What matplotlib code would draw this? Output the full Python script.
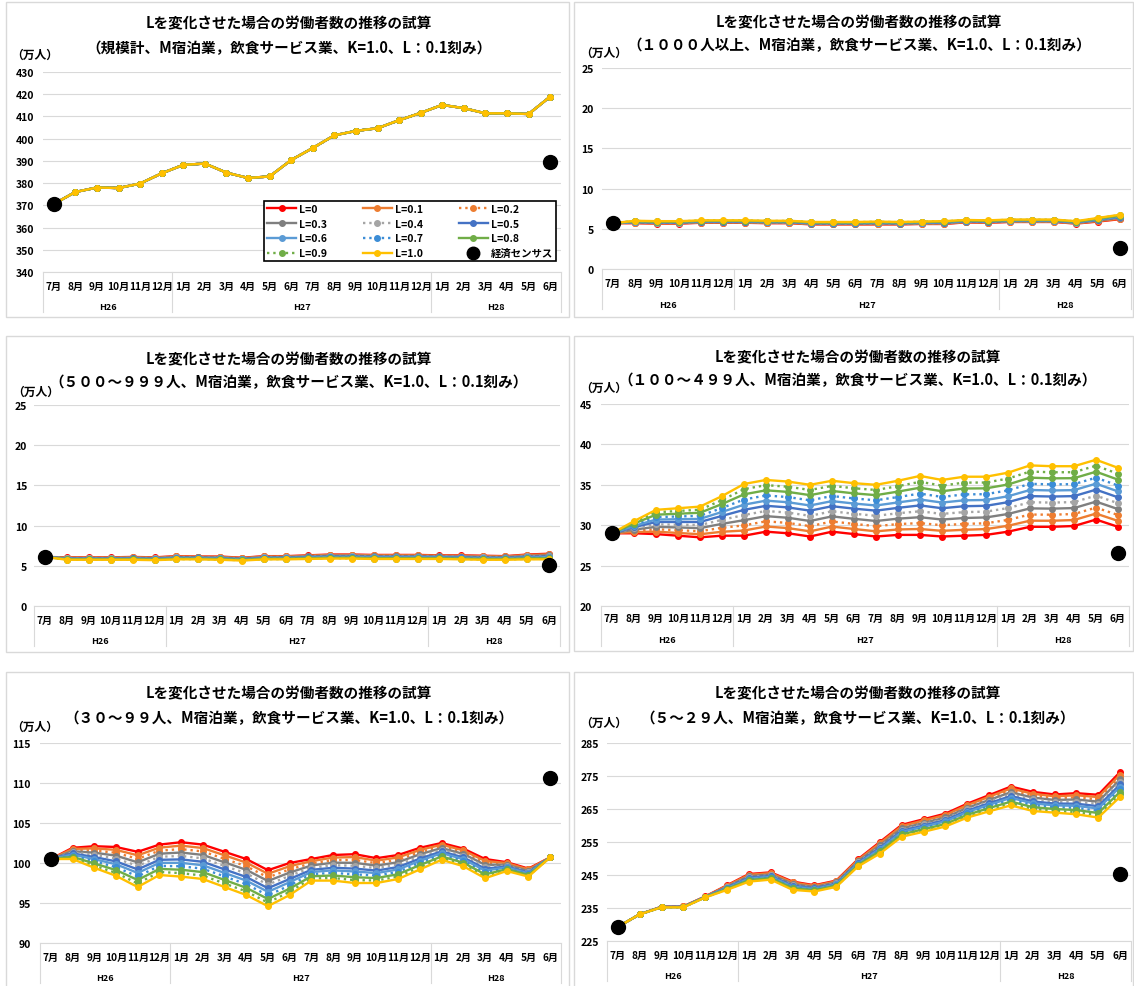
import numpy as np
import matplotlib
matplotlib.use("Agg")
import matplotlib.pyplot as plt
import matplotlib.transforms as mtransforms
from matplotlib.patches import Rectangle
from matplotlib.lines import Line2D

plt.rcParams['font.family'] = ['Noto Sans CJK JP', 'DejaVu Sans']
plt.rcParams['font.weight'] = 'bold'

# ---------------- data ----------------
months = ['7月', '8月', '9月', '10月', '11月', '12月',
          '1月', '2月', '3月', '4月', '5月', '6月', '7月', '8月', '9月', '10月', '11月', '12月',
          '1月', '2月', '3月', '4月', '5月', '6月']
years = ['H26', 'H27', 'H28']
year_first = [0, 6, 18]
year_last = [5, 17, 23]

series_labels = ['L=0', 'L=0.1', 'L=0.2', 'L=0.3', 'L=0.4', 'L=0.5',
                 'L=0.6', 'L=0.7', 'L=0.8', 'L=0.9', 'L=1.0']
census_label = '経済センサス'
census_pos = [0, 23]

title_main = 'Lを変化させた場合の労働者数の推移の試算'
subtitles = [
    '（規模計、M宿泊業，飲食サービス業、K=1.0、L：0.1刻み）',
    '（１０００人以上、M宿泊業，飲食サービス業、K=1.0、L：0.1刻み）',
    '（５００～９９９人、M宿泊業，飲食サービス業、K=1.0、L：0.1刻み）',
    '（１００～４９９人、M宿泊業，飲食サービス業、K=1.0、L：0.1刻み）',
    '（３０～９９人、M宿泊業，飲食サービス業、K=1.0、L：0.1刻み）',
    '（５～２９人、M宿泊業，飲食サービス業、K=1.0、L：0.1刻み）',
]
unit_label = '（万人）'

# 規模計: all L values coincide
total_all = [370.6, 376.0, 378.0, 377.8, 379.8, 384.4, 388.2, 388.8, 384.7, 382.3, 383.0, 390.4,
             395.8, 401.5, 403.5, 404.7, 408.3, 411.6, 415.2, 413.7, 411.4, 411.4, 411.1, 418.9]
census_all = [370.6, 389.6]

# rows = months, columns = L=0 ... L=1.0
v1000 = [
    [5.70, 5.70, 5.70, 5.70, 5.70, 5.70, 5.70, 5.70, 5.70, 5.70, 5.70],
    [5.70, 5.73, 5.76, 5.79, 5.82, 5.85, 5.88, 5.91, 5.94, 5.97, 6.00],
    [5.65, 5.68, 5.71, 5.74, 5.77, 5.80, 5.83, 5.86, 5.89, 5.92, 5.95],
    [5.65, 5.68, 5.71, 5.74, 5.77, 5.80, 5.83, 5.86, 5.89, 5.92, 5.95],
    [5.75, 5.78, 5.81, 5.84, 5.87, 5.90, 5.93, 5.96, 5.99, 6.02, 6.05],
    [5.75, 5.78, 5.81, 5.84, 5.87, 5.90, 5.93, 5.96, 5.99, 6.02, 6.05],
    [5.75, 5.78, 5.81, 5.84, 5.87, 5.90, 5.93, 5.96, 5.99, 6.02, 6.05],
    [5.70, 5.73, 5.76, 5.79, 5.82, 5.85, 5.88, 5.91, 5.94, 5.97, 6.00],
    [5.70, 5.73, 5.76, 5.79, 5.82, 5.85, 5.88, 5.91, 5.94, 5.97, 6.00],
    [5.55, 5.58, 5.61, 5.64, 5.67, 5.70, 5.73, 5.76, 5.79, 5.82, 5.85],
    [5.55, 5.58, 5.61, 5.64, 5.67, 5.70, 5.73, 5.76, 5.79, 5.82, 5.85],
    [5.55, 5.58, 5.61, 5.64, 5.67, 5.70, 5.73, 5.76, 5.79, 5.82, 5.85],
    [5.55, 5.59, 5.62, 5.66, 5.69, 5.73, 5.76, 5.80, 5.83, 5.87, 5.90],
    [5.55, 5.58, 5.61, 5.64, 5.67, 5.70, 5.73, 5.76, 5.79, 5.82, 5.85],
    [5.60, 5.63, 5.66, 5.69, 5.72, 5.75, 5.78, 5.81, 5.84, 5.87, 5.90],
    [5.60, 5.64, 5.67, 5.71, 5.74, 5.78, 5.81, 5.85, 5.88, 5.92, 5.95],
    [5.80, 5.83, 5.86, 5.89, 5.92, 5.95, 5.98, 6.01, 6.04, 6.07, 6.10],
    [5.75, 5.78, 5.81, 5.84, 5.87, 5.90, 5.93, 5.96, 5.99, 6.02, 6.05],
    [5.85, 5.88, 5.91, 5.94, 5.97, 6.00, 6.03, 6.06, 6.09, 6.12, 6.15],
    [5.85, 5.88, 5.91, 5.94, 5.97, 6.00, 6.03, 6.06, 6.09, 6.12, 6.15],
    [5.85, 5.88, 5.91, 5.94, 5.97, 6.00, 6.03, 6.06, 6.09, 6.12, 6.15],
    [5.65, 5.68, 5.71, 5.74, 5.77, 5.80, 5.83, 5.86, 5.89, 5.92, 5.95],
    [5.90, 5.95, 5.99, 6.04, 6.08, 6.13, 6.17, 6.22, 6.26, 6.31, 6.35],
    [6.20, 6.26, 6.31, 6.37, 6.42, 6.48, 6.53, 6.59, 6.64, 6.70, 6.75],
]
census_1000 = [5.66, 2.55]

v500 = [
    [6.10, 6.10, 6.10, 6.10, 6.10, 6.10, 6.10, 6.10, 6.10, 6.10, 6.10],
    [6.05, 6.02, 5.99, 5.96, 5.93, 5.90, 5.87, 5.84, 5.81, 5.78, 5.75],
    [6.05, 6.02, 5.99, 5.96, 5.93, 5.90, 5.87, 5.84, 5.81, 5.78, 5.75],
    [6.05, 6.02, 5.99, 5.96, 5.93, 5.90, 5.87, 5.84, 5.81, 5.78, 5.75],
    [6.10, 6.07, 6.03, 6.00, 5.96, 5.93, 5.89, 5.86, 5.82, 5.79, 5.75],
    [6.05, 6.02, 5.98, 5.95, 5.91, 5.88, 5.84, 5.81, 5.77, 5.74, 5.70],
    [6.20, 6.16, 6.12, 6.08, 6.04, 6.00, 5.96, 5.92, 5.88, 5.84, 5.80],
    [6.15, 6.12, 6.08, 6.05, 6.01, 5.98, 5.94, 5.91, 5.87, 5.84, 5.80],
    [6.15, 6.11, 6.07, 6.03, 5.99, 5.95, 5.91, 5.87, 5.83, 5.79, 5.75],
    [6.00, 5.97, 5.93, 5.90, 5.86, 5.83, 5.79, 5.76, 5.72, 5.69, 5.65],
    [6.20, 6.16, 6.12, 6.08, 6.04, 6.00, 5.96, 5.92, 5.88, 5.84, 5.80],
    [6.20, 6.16, 6.12, 6.08, 6.04, 6.00, 5.96, 5.92, 5.88, 5.84, 5.80],
    [6.30, 6.26, 6.21, 6.17, 6.12, 6.08, 6.03, 5.99, 5.94, 5.90, 5.85],
    [6.40, 6.35, 6.30, 6.25, 6.20, 6.15, 6.10, 6.05, 6.00, 5.95, 5.90],
    [6.40, 6.35, 6.30, 6.25, 6.20, 6.15, 6.10, 6.05, 6.00, 5.95, 5.90],
    [6.35, 6.30, 6.25, 6.20, 6.15, 6.10, 6.05, 6.00, 5.95, 5.90, 5.85],
    [6.35, 6.30, 6.25, 6.20, 6.15, 6.10, 6.05, 6.00, 5.95, 5.90, 5.85],
    [6.35, 6.30, 6.25, 6.20, 6.15, 6.10, 6.05, 6.00, 5.95, 5.90, 5.85],
    [6.30, 6.26, 6.21, 6.17, 6.12, 6.08, 6.03, 5.99, 5.94, 5.90, 5.85],
    [6.30, 6.25, 6.20, 6.15, 6.10, 6.05, 6.00, 5.95, 5.90, 5.85, 5.80],
    [6.25, 6.20, 6.15, 6.10, 6.05, 6.00, 5.95, 5.90, 5.85, 5.80, 5.75],
    [6.20, 6.16, 6.11, 6.07, 6.02, 5.98, 5.93, 5.89, 5.84, 5.80, 5.75],
    [6.40, 6.34, 6.28, 6.22, 6.16, 6.10, 6.04, 5.98, 5.92, 5.86, 5.80],
    [6.50, 6.43, 6.36, 6.29, 6.22, 6.15, 6.08, 6.01, 5.94, 5.87, 5.80],
]
census_500 = [6.08, 5.05]

v100 = [
    [29.00, 29.00, 29.00, 29.00, 29.00, 29.00, 29.00, 29.00, 29.00, 29.00, 29.00],
    [29.00, 29.15, 29.30, 29.45, 29.60, 29.75, 29.90, 30.05, 30.20, 30.35, 30.50],
    [28.90, 29.20, 29.50, 29.80, 30.10, 30.40, 30.70, 31.00, 31.30, 31.60, 31.90],
    [28.70, 29.04, 29.38, 29.72, 30.06, 30.40, 30.74, 31.08, 31.42, 31.76, 32.10],
    [28.50, 28.88, 29.26, 29.64, 30.02, 30.40, 30.78, 31.16, 31.54, 31.92, 32.30],
    [28.70, 29.19, 29.68, 30.17, 30.66, 31.15, 31.64, 32.13, 32.62, 33.11, 33.60],
    [28.70, 29.34, 29.98, 30.62, 31.26, 31.90, 32.54, 33.18, 33.82, 34.46, 35.10],
    [29.20, 29.84, 30.48, 31.12, 31.76, 32.40, 33.04, 33.68, 34.32, 34.96, 35.60],
    [29.00, 29.64, 30.28, 30.92, 31.56, 32.20, 32.84, 33.48, 34.12, 34.76, 35.40],
    [28.60, 29.24, 29.88, 30.52, 31.16, 31.80, 32.44, 33.08, 33.72, 34.36, 35.00],
    [29.20, 29.83, 30.46, 31.09, 31.72, 32.35, 32.98, 33.61, 34.24, 34.87, 35.50],
    [28.90, 29.53, 30.16, 30.79, 31.42, 32.05, 32.68, 33.31, 33.94, 34.57, 35.20],
    [28.60, 29.24, 29.88, 30.52, 31.16, 31.80, 32.44, 33.08, 33.72, 34.36, 35.00],
    [28.80, 29.47, 30.14, 30.81, 31.48, 32.15, 32.82, 33.49, 34.16, 34.83, 35.50],
    [28.80, 29.53, 30.26, 30.99, 31.72, 32.45, 33.18, 33.91, 34.64, 35.37, 36.10],
    [28.60, 29.30, 30.00, 30.70, 31.40, 32.10, 32.80, 33.50, 34.20, 34.90, 35.60],
    [28.70, 29.43, 30.16, 30.89, 31.62, 32.35, 33.08, 33.81, 34.54, 35.27, 36.00],
    [28.80, 29.52, 30.24, 30.96, 31.68, 32.40, 33.12, 33.84, 34.56, 35.28, 36.00],
    [29.20, 29.93, 30.66, 31.39, 32.12, 32.85, 33.58, 34.31, 35.04, 35.77, 36.50],
    [29.80, 30.56, 31.32, 32.08, 32.84, 33.60, 34.36, 35.12, 35.88, 36.64, 37.40],
    [29.80, 30.55, 31.30, 32.05, 32.80, 33.55, 34.30, 35.05, 35.80, 36.55, 37.30],
    [29.90, 30.64, 31.38, 32.12, 32.86, 33.60, 34.34, 35.08, 35.82, 36.56, 37.30],
    [30.70, 31.44, 32.18, 32.92, 33.66, 34.40, 35.14, 35.88, 36.62, 37.36, 38.10],
    [29.80, 30.53, 31.26, 31.99, 32.72, 33.45, 34.18, 34.91, 35.64, 36.37, 37.10],
]
census_100 = [29.0, 26.6]

v30 = [
    [100.50, 100.50, 100.50, 100.50, 100.50, 100.50, 100.50, 100.50, 100.50, 100.50, 100.50],
    [101.90, 101.76, 101.62, 101.48, 101.34, 101.20, 101.06, 100.92, 100.78, 100.64, 100.50],
    [102.10, 101.83, 101.56, 101.29, 101.02, 100.75, 100.48, 100.21, 99.94, 99.67, 99.40],
    [102.00, 101.64, 101.28, 100.92, 100.56, 100.20, 99.84, 99.48, 99.12, 98.76, 98.40],
    [101.40, 100.96, 100.52, 100.08, 99.64, 99.20, 98.76, 98.32, 97.88, 97.44, 97.00],
    [102.30, 101.92, 101.54, 101.16, 100.78, 100.40, 100.02, 99.64, 99.26, 98.88, 98.50],
    [102.60, 102.17, 101.74, 101.31, 100.88, 100.45, 100.02, 99.59, 99.16, 98.73, 98.30],
    [102.30, 101.87, 101.44, 101.01, 100.58, 100.15, 99.72, 99.29, 98.86, 98.43, 98.00],
    [101.40, 100.96, 100.52, 100.08, 99.64, 99.20, 98.76, 98.32, 97.88, 97.44, 97.00],
    [100.50, 100.05, 99.60, 99.15, 98.70, 98.25, 97.80, 97.35, 96.90, 96.45, 96.00],
    [99.10, 98.65, 98.20, 97.75, 97.30, 96.85, 96.40, 95.95, 95.50, 95.05, 94.60],
    [100.00, 99.60, 99.20, 98.80, 98.40, 98.00, 97.60, 97.20, 96.80, 96.40, 96.00],
    [100.50, 100.23, 99.96, 99.69, 99.42, 99.15, 98.88, 98.61, 98.34, 98.07, 97.80],
    [101.00, 100.68, 100.36, 100.04, 99.72, 99.40, 99.08, 98.76, 98.44, 98.12, 97.80],
    [101.10, 100.74, 100.38, 100.02, 99.66, 99.30, 98.94, 98.58, 98.22, 97.86, 97.50],
    [100.60, 100.29, 99.98, 99.67, 99.36, 99.05, 98.74, 98.43, 98.12, 97.81, 97.50],
    [101.00, 100.70, 100.40, 100.10, 99.80, 99.50, 99.20, 98.90, 98.60, 98.30, 98.00],
    [101.90, 101.63, 101.36, 101.09, 100.82, 100.55, 100.28, 100.01, 99.74, 99.47, 99.20],
    [102.50, 102.29, 102.08, 101.87, 101.66, 101.45, 101.24, 101.03, 100.82, 100.61, 100.40],
    [101.80, 101.58, 101.36, 101.14, 100.92, 100.70, 100.48, 100.26, 100.04, 99.82, 99.60],
    [100.50, 100.26, 100.02, 99.78, 99.54, 99.30, 99.06, 98.82, 98.58, 98.34, 98.10],
    [100.10, 99.99, 99.88, 99.77, 99.66, 99.55, 99.44, 99.33, 99.22, 99.11, 99.00],
    [99.30, 99.20, 99.10, 99.00, 98.90, 98.80, 98.70, 98.60, 98.50, 98.40, 98.30],
    [100.70, 100.70, 100.70, 100.70, 100.70, 100.70, 100.70, 100.70, 100.70, 100.70, 100.70],
]
census_30 = [100.5, 110.6]

v5 = [
    [229.30, 229.30, 229.30, 229.30, 229.30, 229.30, 229.30, 229.30, 229.30, 229.30, 229.30],
    [233.10, 233.10, 233.10, 233.10, 233.10, 233.10, 233.10, 233.10, 233.10, 233.10, 233.10],
    [235.40, 235.38, 235.36, 235.34, 235.32, 235.30, 235.28, 235.26, 235.24, 235.22, 235.20],
    [235.50, 235.47, 235.44, 235.41, 235.38, 235.35, 235.32, 235.29, 235.26, 235.23, 235.20],
    [238.50, 238.47, 238.44, 238.41, 238.38, 238.35, 238.32, 238.29, 238.26, 238.23, 238.20],
    [241.90, 241.76, 241.62, 241.48, 241.34, 241.20, 241.06, 240.92, 240.78, 240.64, 240.50],
    [245.30, 245.07, 244.84, 244.61, 244.38, 244.15, 243.92, 243.69, 243.46, 243.23, 243.00],
    [245.80, 245.58, 245.36, 245.14, 244.92, 244.70, 244.48, 244.26, 244.04, 243.82, 243.60],
    [243.00, 242.75, 242.50, 242.25, 242.00, 241.75, 241.50, 241.25, 241.00, 240.75, 240.50],
    [241.90, 241.71, 241.52, 241.33, 241.14, 240.95, 240.76, 240.57, 240.38, 240.19, 240.00],
    [243.30, 243.11, 242.92, 242.73, 242.54, 242.35, 242.16, 241.97, 241.78, 241.59, 241.40],
    [249.80, 249.58, 249.36, 249.14, 248.92, 248.70, 248.48, 248.26, 248.04, 247.82, 247.60],
    [255.00, 254.65, 254.30, 253.95, 253.60, 253.25, 252.90, 252.55, 252.20, 251.85, 251.50],
    [260.20, 259.84, 259.48, 259.12, 258.76, 258.40, 258.04, 257.68, 257.32, 256.96, 256.60],
    [261.90, 261.52, 261.14, 260.76, 260.38, 260.00, 259.62, 259.24, 258.86, 258.48, 258.10],
    [263.60, 263.21, 262.82, 262.43, 262.04, 261.65, 261.26, 260.87, 260.48, 260.09, 259.70],
    [266.60, 266.18, 265.76, 265.34, 264.92, 264.50, 264.08, 263.66, 263.24, 262.82, 262.40],
    [269.20, 268.71, 268.22, 267.73, 267.24, 266.75, 266.26, 265.77, 265.28, 264.79, 264.30],
    [271.80, 271.23, 270.66, 270.09, 269.52, 268.95, 268.38, 267.81, 267.24, 266.67, 266.10],
    [270.20, 269.62, 269.04, 268.46, 267.88, 267.30, 266.72, 266.14, 265.56, 264.98, 264.40],
    [269.40, 268.85, 268.30, 267.75, 267.20, 266.65, 266.10, 265.55, 265.00, 264.45, 263.90],
    [269.80, 269.16, 268.52, 267.88, 267.24, 266.60, 265.96, 265.32, 264.68, 264.04, 263.40],
    [269.30, 268.61, 267.92, 267.23, 266.54, 265.85, 265.16, 264.47, 263.78, 263.09, 262.40],
    [276.20, 275.45, 274.70, 273.95, 273.20, 272.45, 271.70, 270.95, 270.20, 269.45, 268.70],
]
census_5 = [229.3, 245.2]

yticks_all = [340, 350, 360, 370, 380, 390, 400, 410, 420, 430]
yticks_1000 = [0, 5, 10, 15, 20, 25]
yticks_500 = [0, 5, 10, 15, 20, 25]
yticks_100 = [20, 25, 30, 35, 40, 45]
yticks_30 = [90, 95, 100, 105, 110, 115]
yticks_5 = [225, 235, 245, 255, 265, 275, 285]

# ---------------- styles ----------------
colors = ['#FF0000', '#ED7D31', '#ED7D31', '#7F7F7F', '#A5A5A5', '#4472C4',
          '#5B9BD5', '#3C8DD6', '#70AD47', '#70AD47', '#FFC000']
lstyles = ['-', '-', ':', '-', ':', '-', '-', ':', '-', ':', '-']

W, H = 1134, 987
fig = plt.figure(figsize=(W / 100, H / 100), dpi=100)
fig.patch.set_facecolor('white')

GRID = '#D9D9D9'


def fx(px):
    return px / W


def fy(py):
    return 1 - py / H


panels = [
    dict(table=[total_all] * 11, census=census_all, yt=yticks_all, ax=(43, 73, 561, 273),
         border=(6, 3, 569, 318), ty=(23, 48), tx=289, unit=(35, 55), my=287, yy=307, pad=9, transpose=False),
    dict(table=v1000, census=census_1000, yt=yticks_1000, ax=(602, 69, 1131, 270),
         border=(574, 3, 1133, 318), ty=(22, 45), tx=859, unit=(604, 53), my=284, yy=305, pad=8, transpose=True),
    dict(table=v500, census=census_500, yt=yticks_500, ax=(34, 406, 560, 607),
         border=(6, 337, 569, 653), ty=(359, 382), tx=289, unit=(36, 392), my=621, yy=642, pad=7, transpose=True),
    dict(table=v100, census=census_100, yt=yticks_100, ax=(601, 405, 1129, 607),
         border=(574, 337, 1133, 652), ty=(357, 380), tx=858, unit=(604, 388), my=619, yy=641, pad=9, transpose=True),
    dict(table=v30, census=census_30, yt=yticks_30, ax=(40, 744, 561, 944),
         border=(6, 673, 569, 990), ty=(693, 718), tx=289, unit=(35, 727), my=958, yy=979, pad=9, transpose=True),
    dict(table=v5, census=census_5, yt=yticks_5, ax=(607, 744, 1131, 942),
         border=(574, 673, 1133, 990), ty=(693, 718), tx=858, unit=(604, 723), my=956, yy=977, pad=8, transpose=True),
]

x = np.arange(len(months))
axes = []
for k, p in enumerate(panels):
    bl, bt, br, bb = p['border']
    fig.add_artist(Rectangle((fx(bl), fy(bb)), (br - bl) / W, (bb - bt) / H,
                             transform=fig.transFigure, fill=False,
                             edgecolor='#D9D9D9', lw=1.0))
    l, t, r, b = p['ax']
    ax = fig.add_axes([fx(l), fy(b), (r - l) / W, (b - t) / H])
    axes.append(ax)
    data = np.array(p['table'], dtype=float)
    if p['transpose']:
        data = data.T
    for i in range(11):
        ax.plot(x, data[i], color=colors[i], ls=lstyles[i], lw=1.7,
                marker='o', ms=4, zorder=3 + i * 0.01)
    ax.plot(census_pos, p['census'], ls='none', marker='o', ms=10,
            color='black', zorder=5)
    ax.set_xlim(-0.5, len(months) - 0.5)
    ax.set_ylim(p['yt'][0], p['yt'][-1])
    ax.set_yticks(p['yt'])
    ax.tick_params(axis='y', length=0, pad=p['pad'] * 0.72, labelsize=7.5)
    ax.set_xticks([])
    ax.grid(axis='y', color=GRID, lw=0.8)
    ax.set_axisbelow(True)
    for s in ['left', 'right', 'top']:
        ax.spines[s].set_visible(False)
    ax.spines['bottom'].set_color(GRID)
    ax.spines['bottom'].set_linewidth(0.8)

    trans = mtransforms.blended_transform_factory(ax.transData, ax.transAxes)
    for i, m in enumerate(months):
        ax.annotate(m, xy=(i, 0), xycoords=trans, xytext=(0, -(p['my'] - b)),
                    textcoords='offset pixels', ha='center', va='center', fontsize=7.3)
    for yl, f0, f1 in zip(years, year_first, year_last):
        ax.annotate(yl, xy=((f0 + f1) / 2, 0), xycoords=trans, xytext=(0, -(p['yy'] - b)),
                    textcoords='offset pixels', ha='center', va='center', fontsize=6.5)
    sep_len = 40 / (b - t)
    for xs in [-0.5, 5.5, 17.5, 23.5]:
        ax.plot([xs, xs], [0, -sep_len], transform=trans, clip_on=False,
                color=GRID, lw=0.8)

    fig.text(fx(p['tx']), fy(p['ty'][0]), title_main, ha='center', va='center', fontsize=10.5)
    fig.text(fx(p['tx']), fy(p['ty'][1]), subtitles[k], ha='center', va='center', fontsize=10.5)
    fig.text(fx(p['unit'][0]), fy(p['unit'][1]), unit_label, ha='center', va='center', fontsize=8.5)

# legend (panel 1)
handles = [Line2D([], [], color=colors[i], ls=lstyles[i], lw=1.7, marker='o', ms=4)
           for i in range(11)]
handles.append(Line2D([], [], ls='none', marker='o', ms=9, color='black'))
labels = series_labels + [census_label]
order = [0, 3, 6, 9, 1, 4, 7, 10, 2, 5, 8, 11]
leg = axes[0].legend([handles[i] for i in order], [labels[i] for i in order],
                     ncol=3, loc='upper left', bbox_to_anchor=(fx(264), fy(202)),
                     bbox_transform=fig.transFigure, frameon=True, fancybox=False,
                     edgecolor='black', fontsize=7.5, handlelength=2.8, handletextpad=0.3,
                     columnspacing=3.4, labelspacing=0.45, borderpad=0.3, borderaxespad=0,
                     framealpha=1)
leg.get_frame().set_linewidth(1.2)
leg.set_zorder(10)

fig.savefig('out.png', dpi=100)
